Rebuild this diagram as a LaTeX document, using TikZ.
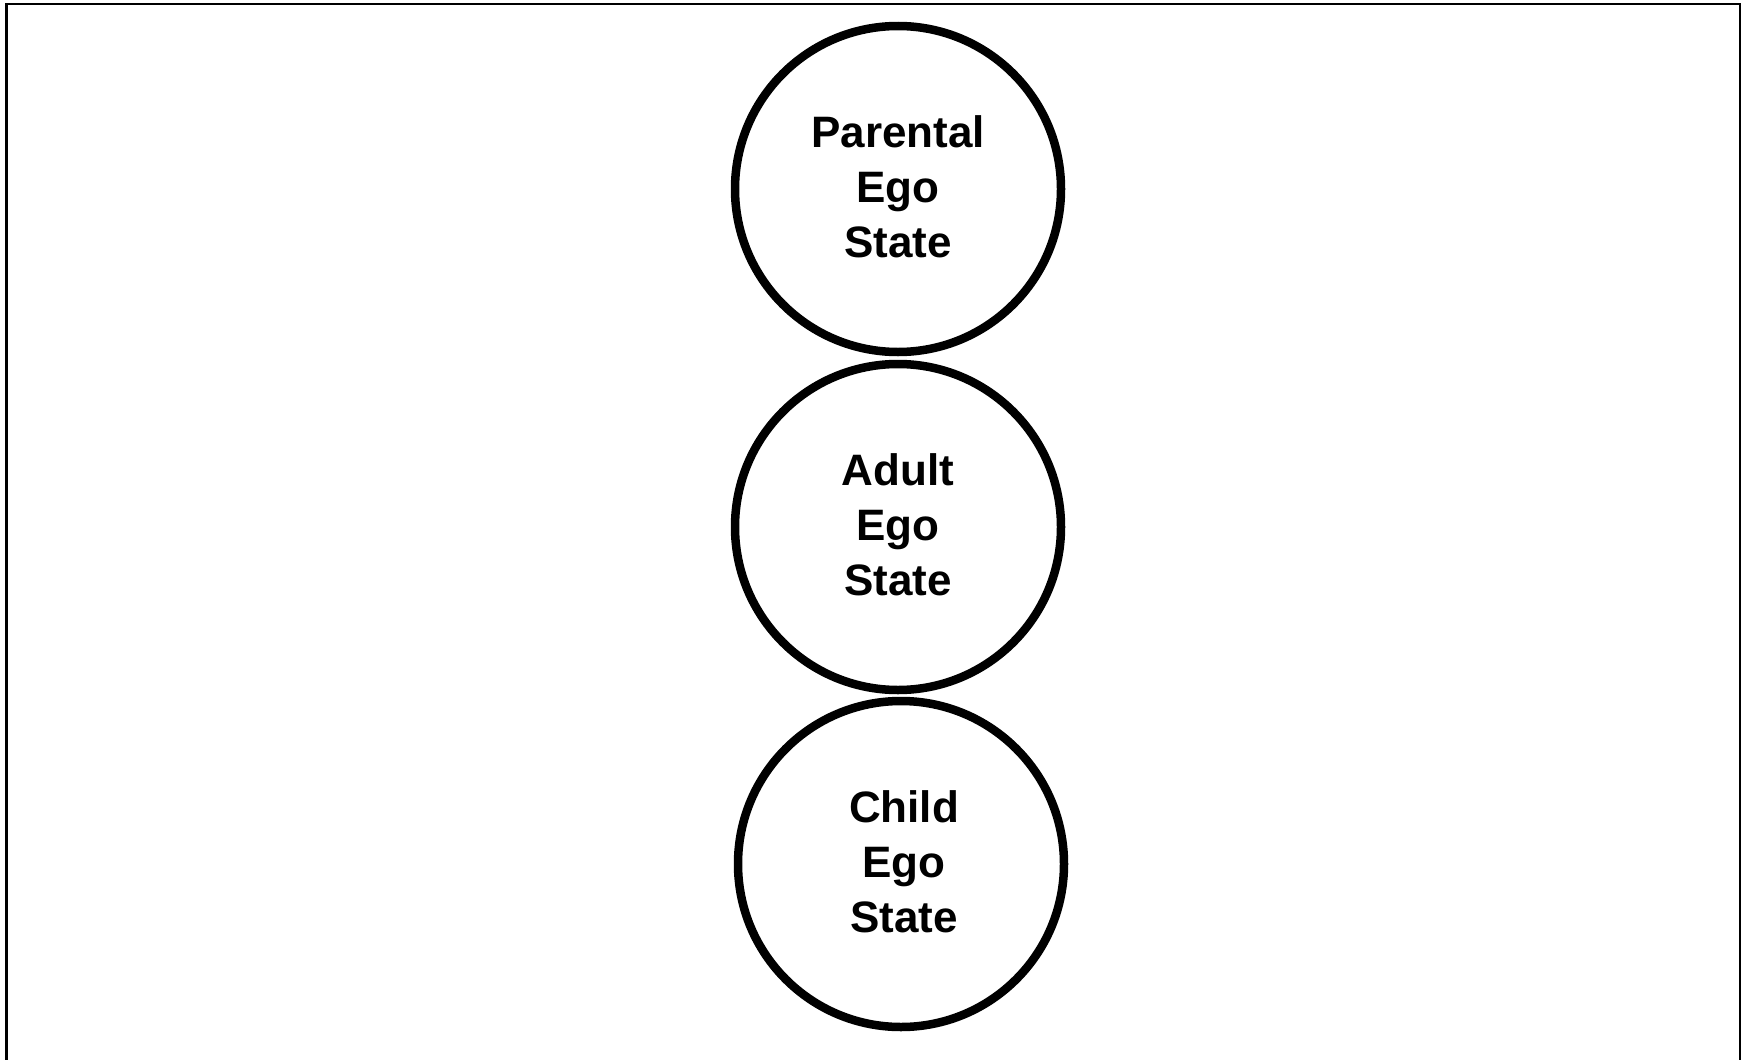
\documentclass[tikz,border=0pt]{standalone}
\usepackage{fontspec}
\setmainfont{Liberation Sans}
\begin{document}
\begin{tikzpicture}[x=1pt,y=-1pt,
  egostate/.style={circle,draw=black,line width=8.5pt,minimum size=326pt,inner sep=0pt},
  egotext/.style={align=center,inner sep=0pt,font=\bfseries\fontsize{44}{55}\selectfont}]
\useasboundingbox (0,0) rectangle (1749,1060);
\draw[line width=2.6pt] (6.2,1070) -- (6.2,3.8) -- (1740,3.8) -- (1740,1070);
\node[egostate] (parent) at (898,189) {};
\node[egostate] (adult) at (898,527) {};
\node[egostate] (child) at (901,864) {};
\node[egotext] (parenttext) at (898,186.5) {Parental\\Ego\\State};
\node[egotext] (adulttext) at (898,524.5) {Adult\\Ego\\State};
\node[egotext] (childtext) at (904,861.5) {Child\\Ego\\State};
\end{tikzpicture}
\end{document}
